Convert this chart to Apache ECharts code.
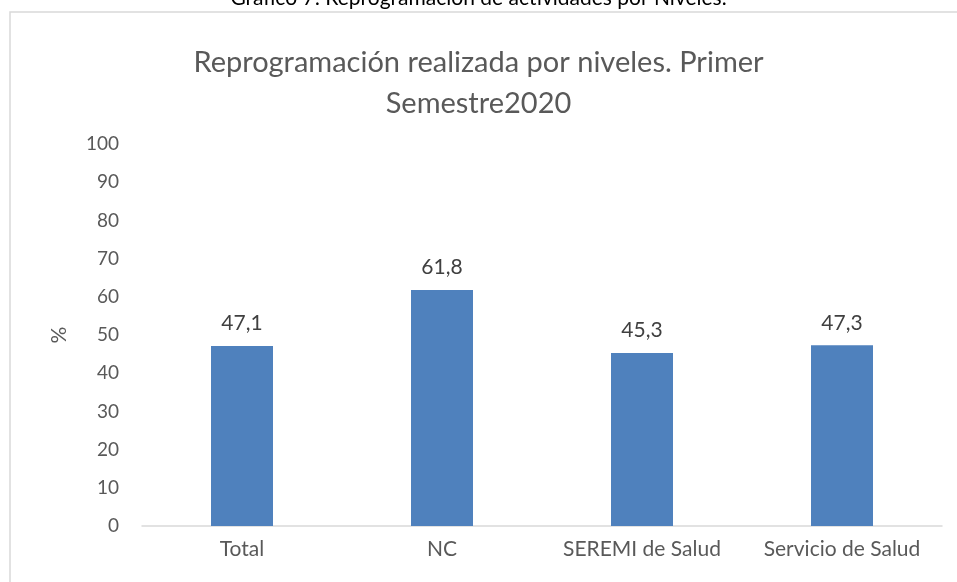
<!DOCTYPE html>
<html>
<head>
<meta charset="utf-8">
<script src="https://cdn.jsdelivr.net/npm/echarts@6/dist/echarts.min.js"></script>
<style>
html,body{margin:0;padding:0;background:#fff;}
#main{width:957px;height:582px;}
</style>
</head>
<body>
<div id="main"></div>
<script>
var categories = ['Total', 'NC', 'SEREMI de Salud', 'Servicio de Salud'];
var values = [47.1, 61.8, 45.3, 47.3];
var yTicks = [0, 100, 10];

var myChart = echarts.init(document.getElementById('main'));
var option = {
	animation: false,
	textStyle: {fontFamily: 'Lato'},
	title: {
		text: 'Reprogramación realizada por niveles. Primer\nSemestre2020',
		left: 'center',
		top: 37,
		textStyle: {fontFamily: 'Lato', fontSize: 29, fontWeight: 'normal', color: '#595959', lineHeight: 41}
	},
	graphic: [
		{type: 'rect', shape: {x: 10, y: 12, width: 960, height: 600}, style: {fill: 'none', stroke: '#d9d9d9', lineWidth: 1.5}, z: -1},
		{type: 'text', left: 'center', top: -12, style: {text: 'Gráfico 7: Reprogramación de actividades por Niveles.', fontFamily: 'Lato', fontSize: 21, fill: '#000'}}
	],
	grid: {left: 142, right: 15, top: 144, bottom: 56},
	xAxis: {
		type: 'category',
		data: categories,
		axisLine: {lineStyle: {color: '#d9d9d9', width: 1.5}},
		axisTick: {show: false},
		axisLabel: {fontSize: 21, color: '#595959', margin: 13, interval: 0}
	},
	yAxis: {
		type: 'value',
		min: yTicks[0],
		max: yTicks[1],
		interval: yTicks[2],
		name: '%',
		nameLocation: 'middle',
		nameGap: 72,
		nameTextStyle: {fontSize: 21, color: '#595959'},
		axisLine: {show: false},
		axisTick: {show: false},
		splitLine: {show: false},
		axisLabel: {fontSize: 19, color: '#595959', margin: 23}
	},
	series: [{
		type: 'bar',
		data: values,
		barWidth: '31%',
		itemStyle: {color: '#4f81bd'},
		label: {
			show: true,
			position: 'top',
			distance: 12,
			fontSize: 21,
			color: '#404040',
			formatter: function(p){ return String(p.value).replace('.', ','); }
		}
	}]
};
myChart.setOption(option);
</script>
</body>
</html>
